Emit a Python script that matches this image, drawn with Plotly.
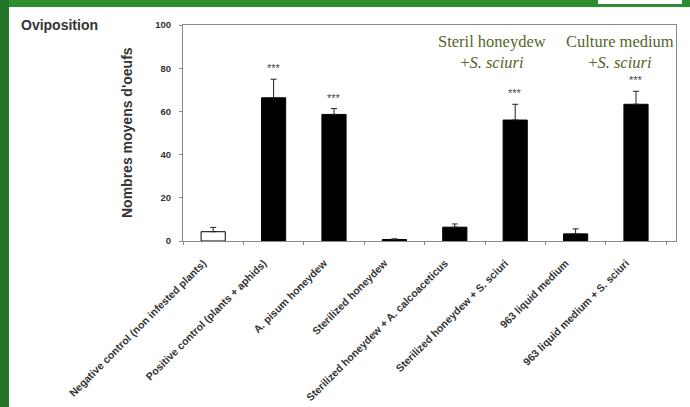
import plotly.graph_objects as go

categories = [
    "Negative control (non infested plants)",
    "Positive control (plants + aphids)",
    "A. pisum honeydew",
    "Sterilized honeydew",
    "Sterilized honeydew + A. calcoaceticus",
    "Sterilized honeydew + S. sciuri",
    "963 liquid medium",
    "963 liquid medium + S. sciuri",
]
values = [4.3, 66.3, 58.6, 0.7, 6.4, 56.0, 3.3, 63.3]
errors = [2.0, 8.6, 2.7, 0.3, 1.5, 7.3, 2.3, 6.0]
stars = ["", "***", "***", "", "", "***", "", "***"]
bar_colors = ["white", "black", "black", "black", "black", "black", "black", "black"]
y_ticks = [0, 20, 40, 60, 80, 100]

W, H = 690, 407
L, R, T, B = 183, 14, 25, 166
PW, PH = W - L - R, H - T - B

def px_x(x):
    return (x - L) / PW

def px_y(y):
    return (H - B - y) / PH

fig = go.Figure()
fig.add_trace(go.Bar(
    x=categories, y=values, width=0.4,
    marker=dict(color=bar_colors, line=dict(color="black", width=1)),
    error_y=dict(type="data", symmetric=False, array=errors,
                 arrayminus=[0] * len(errors), color="#222", thickness=1, width=3),
    showlegend=False,
))

annotations = []
for c, v, e, s in zip(categories, values, errors, stars):
    if s:
        annotations.append(dict(x=c, y=v + e, text=s, showarrow=False, xref="x", yref="y",
                                yanchor="bottom", yshift=3,
                                font=dict(family="Liberation Sans, Arial", size=11, color="#444")))

olive = "#55652b"
annotations.append(dict(x=categories[5], y=100, xref="x", yref="y", xshift=-23, yshift=-5,
                        text="Steril honeydew<br>+<i>S. sciuri</i>", showarrow=False,
                        yanchor="top", align="center",
                        font=dict(family="Liberation Serif, Times New Roman, serif", size=16.5, color=olive)))
annotations.append(dict(x=categories[7], y=100, xref="x", yref="y", xshift=-16, yshift=-5,
                        text="Culture medium<br>+<i>S. sciuri</i>", showarrow=False,
                        yanchor="top", align="center",
                        font=dict(family="Liberation Serif, Times New Roman, serif", size=16.5, color=olive)))
annotations.append(dict(x=px_x(19), y=px_y(25), xref="paper", yref="paper", xanchor="left",
                        yanchor="middle", text="<b>Oviposition</b>", showarrow=False,
                        font=dict(family="Liberation Sans, Arial", size=14, color="#333")))
annotations.append(dict(x=px_x(127), y=px_y(133), xref="paper", yref="paper", xanchor="center",
                        yanchor="middle", textangle=-90, text="<b>Nombres moyens d'oeufs</b>",
                        showarrow=False,
                        font=dict(family="Liberation Sans, Arial", size=14, color="#333")))

shapes = [
    dict(type="rect", xref="paper", yref="paper", x0=px_x(0), x1=px_x(W), y0=px_y(7), y1=px_y(0),
         fillcolor="#2b8f2f", line=dict(width=0), layer="above"),
    dict(type="rect", xref="paper", yref="paper", x0=px_x(598), x1=px_x(682), y0=px_y(4), y1=px_y(0),
         fillcolor="white", line=dict(width=0), layer="above"),
    dict(type="rect", xref="paper", yref="paper", x0=px_x(0), x1=px_x(9), y0=px_y(H), y1=px_y(0),
         fillcolor="#227628", line=dict(width=0), layer="above"),
]

fig.update_layout(
    width=W, height=H, autosize=False,
    margin=dict(l=L, r=R, t=T, b=B, pad=0),
    paper_bgcolor="white", plot_bgcolor="white",
    annotations=annotations, shapes=shapes,
    bargap=0.6,
)
fig.update_xaxes(
    showline=True, linecolor="#8a8a8a", linewidth=1, mirror=True, automargin=False,
    ticks="outside", tickson="boundaries", ticklen=3, tickcolor="#8a8a8a",
    tickangle=-45, showgrid=False, ticklabelstandoff=11, ticklabelshift=-10,
    tickfont=dict(family="Liberation Sans, Arial", size=10.5, color="#333", weight="bold"),
)
fig.update_yaxes(
    range=[0, 100], tickvals=y_ticks, showline=True, linecolor="#8a8a8a", linewidth=1, mirror=True,
    automargin=False,
    ticks="outside", ticklen=3, tickcolor="#8a8a8a", showgrid=False, zeroline=False,
    ticklabelstandoff=6,
    tickfont=dict(family="Liberation Sans, Arial", size=9.5, color="#333", weight="bold"),
)

fig.write_html("out.html", config={"displayModeBar": False},
               post_script="document.body.style.margin='0';")
